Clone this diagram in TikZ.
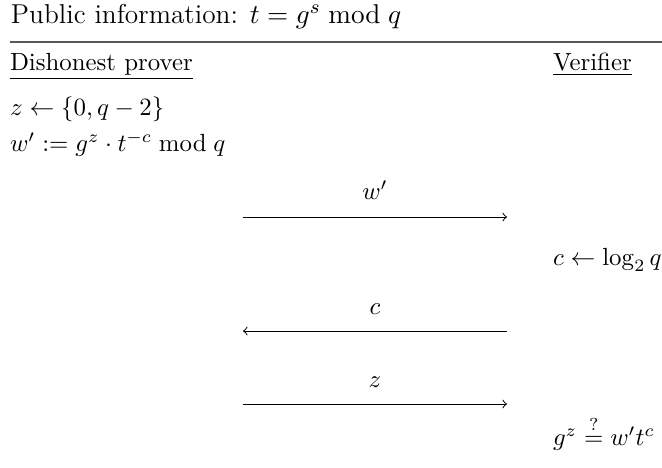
\documentclass[tikz,border=0pt]{standalone}
\usepackage{amsmath,amssymb}
\begin{document}
\begin{tikzpicture}[x=0.4028pt,y=-0.4028pt,
  txt/.style={anchor=base west,inner sep=0pt,outer sep=0pt},
  lbl/.style={anchor=base,inner sep=0pt,outer sep=0pt},
  msg/.style={->,line width=0.4pt}]
\useasboundingbox (0,0) rectangle (662,467);
\node[txt,font=\fontsize{11}{13}\selectfont] (title) at (11,23) {Public information: $t = g^s \bmod q$};
\coordinate (rl) at (10,42);
\coordinate (rr) at (662,42);
\draw[gray!70!black,line width=0.7pt] (rl) -- (rr);
\node[txt] (prover) at (10,70) {\underline{Dishonest prover}};
\node[txt] (verifier) at (553,70) {\underline{Verifier}};
\node[txt] (zsel) at (10,115) {$z \leftarrow \{0, q-2\}$};
\node[txt] (wdef) at (10,151) {$w' := g^z \cdot t^{-c} \bmod q$};
\coordinate (a1l) at (243,217);
\coordinate (a1r) at (507,217);
\draw[msg] (a1l) -- (a1r);
\node[lbl] (l1) at (375,199) {$w'$};
\node[txt] (csel) at (553,265) {$c \leftarrow \log_2 q$};
\coordinate (a2l) at (243,331);
\coordinate (a2r) at (507,331);
\draw[msg] (a2r) -- (a2l);
\node[lbl] (l2) at (375,314) {$c$};
\coordinate (a3l) at (243,404);
\coordinate (a3r) at (507,404);
\draw[msg] (a3l) -- (a3r);
\node[lbl] (l3) at (375,387) {$z$};
\node[txt] (check) at (553,445) {$g^z \overset{?}{=} w' t^c$};
\end{tikzpicture}
\end{document}
